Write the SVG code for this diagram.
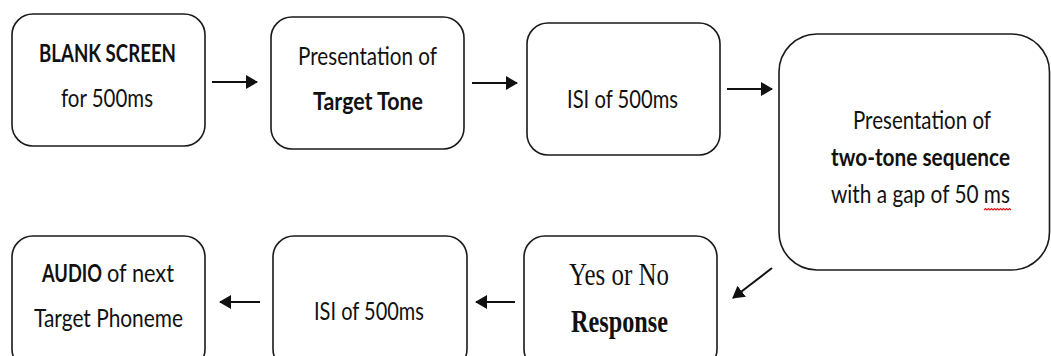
<svg xmlns="http://www.w3.org/2000/svg" width="1051" height="356" viewBox="0 0 1051 356">
<style>
.box{fill:#fff;stroke:#1a1a1a;stroke-width:1.6}
.t{font-family:Lato,"Liberation Sans",sans-serif;font-size:20px;fill:#111}
.b{font-weight:bold}
.tr{font-family:"Liberation Serif","Times New Roman",serif;font-size:24px;fill:#111}
.con{stroke:#111;stroke-width:2;fill:none}
</style>
<defs>
<marker id="ah" markerUnits="userSpaceOnUse" markerWidth="12" markerHeight="14" refX="11" refY="7" orient="auto">
<path d="M0,0 L12,7 L0,14 z" fill="#111"/>
</marker>
</defs>
<rect width="1051" height="356" fill="#fff"/>
<g id="n1">
<rect class="box" x="12" y="14" width="193" height="132" rx="21"/>
<text class="t b" transform="translate(39,62) scale(1,1.25)" textLength="137" lengthAdjust="spacingAndGlyphs">BLANK SCREEN</text>
<text class="t" transform="translate(61,107) scale(1,1.25)" textLength="92" lengthAdjust="spacingAndGlyphs">for 500ms</text>
</g>
<g id="n2">
<rect class="box" x="271" y="17" width="193" height="132" rx="21"/>
<text class="t" transform="translate(298,65) scale(1,1.25)" textLength="139" lengthAdjust="spacingAndGlyphs">Presentation of</text>
<text class="t b" transform="translate(313,110) scale(1,1.25)" textLength="110" lengthAdjust="spacingAndGlyphs">Target Tone</text>
</g>
<g id="n3">
<rect class="box" x="527" y="23" width="193" height="132" rx="21"/>
<text class="t" transform="translate(567,108) scale(1,1.25)" textLength="111" lengthAdjust="spacingAndGlyphs">ISI of 500ms</text>
</g>
<g id="n4">
<rect class="box" x="779" y="34" width="270.5" height="236" rx="38"/>
<text class="t" transform="translate(853,129) scale(1,1.25)" textLength="138" lengthAdjust="spacingAndGlyphs">Presentation of</text>
<text class="t b" transform="translate(831,166) scale(1,1.25)" textLength="179" lengthAdjust="spacingAndGlyphs">two-tone sequence</text>
<text class="t" transform="translate(831,203) scale(1,1.25)" textLength="179" lengthAdjust="spacingAndGlyphs">with a gap of 50 ms</text>
<path d="M984,210 l1.5,-1.5 l1.5,1.5 l1.5,-1.5 l1.5,1.5 l1.5,-1.5 l1.5,1.5 l1.5,-1.5 l1.5,1.5 l1.5,-1.5 l1.5,1.5 l1.5,-1.5 l1.5,1.5 l1.5,-1.5 l1.5,1.5 l1.5,-1.5 l1.5,1.5 l1.5,-1.5 l1.5,1.5" fill="none" stroke="#e01818" stroke-width="1.2"/>
</g>
<g id="n5">
<rect class="box" x="12" y="236" width="193" height="134" rx="21"/>
<text class="t b" transform="translate(42,282) scale(1,1.25)" textLength="60" lengthAdjust="spacingAndGlyphs">AUDIO</text>
<text class="t" transform="translate(107,282) scale(1,1.25)" textLength="67" lengthAdjust="spacingAndGlyphs">of next</text>
<text class="t" transform="translate(34,327) scale(1,1.25)" textLength="149" lengthAdjust="spacingAndGlyphs">Target Phoneme</text>
</g>
<g id="n6">
<rect class="box" x="273" y="236" width="194" height="134" rx="21"/>
<text class="t" transform="translate(314,320) scale(1,1.25)" textLength="110" lengthAdjust="spacingAndGlyphs">ISI of 500ms</text>
</g>
<g id="n7">
<rect class="box" x="524" y="236" width="193" height="134" rx="21"/>
<text class="tr" transform="translate(569,285) scale(1,1.3)" textLength="100" lengthAdjust="spacingAndGlyphs">Yes or No</text>
<text class="tr b" transform="translate(571,332) scale(1,1.3)" textLength="97" lengthAdjust="spacingAndGlyphs">Response</text>
</g>
<g id="connectors">
<line class="con" x1="212" y1="82" x2="257" y2="82" marker-end="url(#ah)"/>
<line class="con" x1="472" y1="83" x2="517" y2="83" marker-end="url(#ah)"/>
<line class="con" x1="727" y1="89" x2="772" y2="89" marker-end="url(#ah)"/>
<line class="con" x1="772" y1="268" x2="733" y2="298" marker-end="url(#ah)"/>
<line class="con" x1="515" y1="302" x2="476" y2="302" marker-end="url(#ah)"/>
<line class="con" x1="260" y1="302" x2="220" y2="302" marker-end="url(#ah)"/>
</g>
</svg>
